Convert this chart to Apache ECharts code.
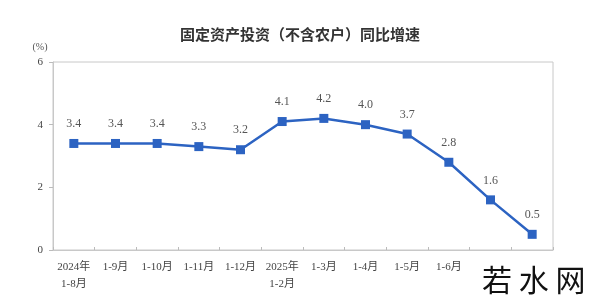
<!DOCTYPE html>
<html><head><meta charset="utf-8">
<script src="https://cdn.jsdelivr.net/npm/echarts@6/dist/echarts.min.js"></script>
<style>html,body{margin:0;padding:0;background:#fff}#c{width:600px;height:307px}</style>
</head><body><div id="c"></div>
<script>
const categories = ['2024年\n1-8月','1-9月','1-10月','1-11月','1-12月','2025年\n1-2月','1-3月','1-4月','1-5月','1-6月','1-7月','1-8月'];
const values = [3.4,3.4,3.4,3.3,3.2,4.1,4.2,4.0,3.7,2.8,1.6,0.5];
const yTicks = [0,2,4,6];
const titleText = '固定资产投资（不含农户）同比增速';
const unitText = '(%)';
const watermark = '若 水 网';

const chart = echarts.init(document.getElementById('c'), null, {renderer:'canvas'});
const serif = '"Liberation Serif","DejaVu Serif","Noto Sans CJK SC",serif';
chart.setOption({
  animation:false,
  backgroundColor:'#fff',
  title:{text:titleText,left:'center',top:22,textStyle:{fontFamily:'"Noto Sans CJK SC",sans-serif',fontSize:15,fontWeight:'bold',color:'#333'}},
  grid:{left:53,right:47,top:62,bottom:57,show:true,borderColor:'#c8c8c8',borderWidth:1},
  xAxis:{type:'category',data:categories,boundaryGap:true,
    axisLine:{show:true,lineStyle:{color:'#c8c8c8'}},
    axisTick:{show:true,inside:true,length:3,lineStyle:{color:'#bbb'}},
    axisLabel:{color:'#444',fontFamily:serif,fontSize:11,lineHeight:17,margin:9,interval:0}},
  yAxis:{type:'value',min:yTicks[0],max:yTicks[yTicks.length-1],interval:2,
    name:unitText,nameLocation:'end',nameGap:10,nameTextStyle:{color:'#555',fontFamily:serif,fontSize:10,padding:[0,26,0,0]},
    splitLine:{show:false},
    axisLine:{show:true,lineStyle:{color:'#c8c8c8'}},
    axisTick:{show:true,length:4,lineStyle:{color:'#bbb'}},
    axisLabel:{color:'#444',fontFamily:serif,fontSize:11,margin:10}},
  series:[{type:'line',data:values,symbol:'rect',symbolSize:9,
    lineStyle:{color:'#2c63c2',width:2.5},itemStyle:{color:'#2c63c2'},
    label:{show:true,position:'top',distance:9,color:'#555',fontFamily:serif,fontSize:12,
      formatter:p=>p.value.toFixed(1)}}],
  graphic:[{type:'text',left:472,top:255,z:100,style:{text:watermark,fontSize:30,fontFamily:'"Noto Sans CJK SC",sans-serif',fill:'#111',backgroundColor:'#fff',padding:[10,8,12,10]}}]
});
</script></body></html>
